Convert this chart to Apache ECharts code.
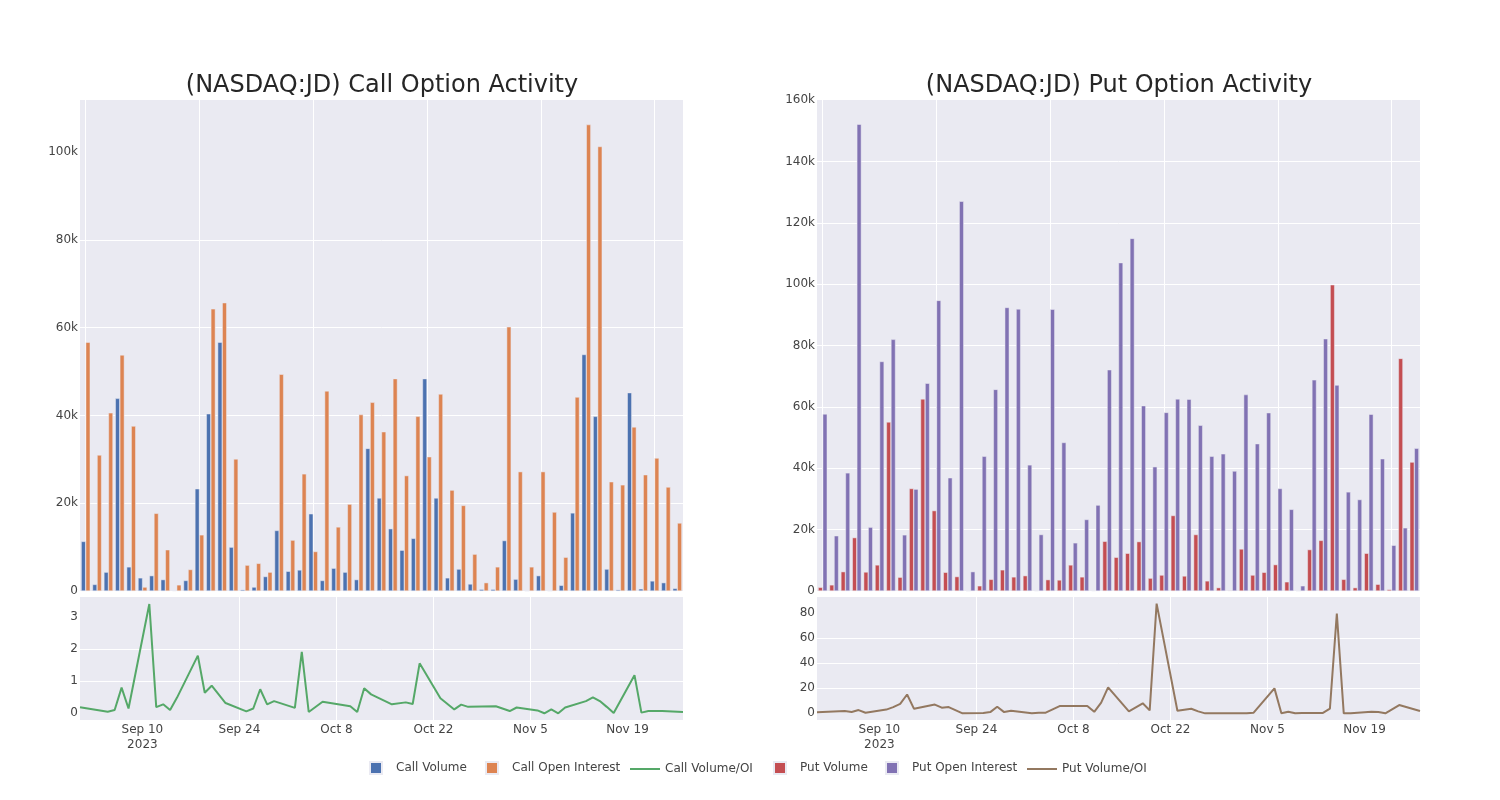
<!DOCTYPE html>
<html><head><meta charset="utf-8">
<script src="https://cdn.jsdelivr.net/npm/echarts@6/dist/echarts.min.js"></script>
<style>html,body{margin:0;padding:0;background:#fff}#c{width:1500px;height:800px}</style>
</head><body><div id="c"></div>
<script>
// ---- data ----
const dates = ['2023-09-01','2023-09-05','2023-09-06','2023-09-07','2023-09-08','2023-09-11','2023-09-12','2023-09-13','2023-09-14','2023-09-15',
 '2023-09-18','2023-09-19','2023-09-20','2023-09-22','2023-09-25','2023-09-26','2023-09-27','2023-09-28','2023-09-29','2023-10-02',
 '2023-10-03','2023-10-04','2023-10-06','2023-10-10','2023-10-11','2023-10-12','2023-10-13','2023-10-16','2023-10-18','2023-10-19',
 '2023-10-20','2023-10-23','2023-10-25','2023-10-26','2023-10-27','2023-10-31','2023-11-02','2023-11-03','2023-11-06','2023-11-07',
 '2023-11-08','2023-11-09','2023-11-10','2023-11-13','2023-11-14','2023-11-15','2023-11-16','2023-11-17','2023-11-20','2023-11-21',
 '2023-11-22','2023-11-24','2023-11-27'];
// thousands of contracts
const callVolume = [11.3,1.5,4.3,43.9,5.5,3.0,3.5,2.6,0.1,2.4, 23.3,40.4,56.7,10.0,0.3,0.9,3.3,13.8,4.5,4.8,
 17.6,2.4,5.2,4.3,2.6,32.5,21.2,14.2,9.3,12.0, 48.4,21.2,3.0,5.0,1.6,0.4,0.4,11.5,2.7,0.0,
 3.5,0.0,1.3,17.8,53.9,39.8,5.0,0.3,45.2,0.5, 2.3,1.9,0.6];
const callOpenInterest = [56.7,31.0,40.6,53.8,37.6,0.9,17.7,9.4,1.4,4.9, 12.8,64.3,65.7,30.1,5.9,6.3,4.3,49.4,11.6,26.7,
 9.0,45.6,14.6,19.8,40.2,43.0,36.3,48.4,26.3,39.8, 30.6,44.9,23.0,19.5,8.4,1.9,5.5,60.2,27.2,5.5,
 27.2,18.0,7.7,44.2,106.3,101.3,24.9,24.2,37.4,26.5, 30.3,23.7,15.5];
const callRatio = [0.19,0.05,0.10,0.80,0.15,3.41,0.19,0.28,0.10,0.49, 1.80,0.64,0.86,0.32,0.06,0.15,0.75,0.28,0.38,0.17,
 1.92,0.04,0.36,0.22,0.04,0.78,0.59,0.28,0.34,0.29, 1.56,0.47,0.12,0.27,0.20,0.22,0.07,0.18,0.09,0.00,
 0.12,0.00,0.18,0.38,0.50,0.38,0.20,0.01,1.19,0.02, 0.07,0.07,0.04];
const putVolume = [1.2,2.0,6.3,17.4,6.2,8.5,55.1,4.5,33.4,62.6, 26.2,6.1,4.7,0.0,1.7,3.8,6.9,4.6,5.0,0.1,
 3.7,3.6,8.5,4.6,0.1,16.2,11.0,12.3,16.1,4.2, 5.2,24.6,4.9,18.4,3.3,1.1,0.2,13.7,5.2,6.1,
 8.6,3.0,0.0,13.5,16.5,99.8,3.8,1.1,12.3,2.2, 0.5,75.8,42.0];
const putOpenInterest = [57.7,18.0,38.5,152.1,20.8,74.8,82.0,18.3,33.2,67.7, 94.7,36.9,127.0,6.3,43.9,65.7,92.4,91.9,41.1,18.4,
 91.8,48.4,15.7,23.3,28.0,72.1,107.0,114.9,60.4,40.5, 58.2,62.6,62.5,54.0,43.9,44.7,39.1,64.0,48.0,58.1,
 33.4,26.6,1.7,68.8,82.2,67.1,32.3,29.8,57.6,43.1, 14.9,20.6,46.5];
const putRatio = [0.8,1.8,1.1,2.6,0.5,3.0,5.0,7.5,15.0,3.6, 7.0,4.5,5.0,0.0,0.3,1.0,5.2,1.0,2.0,0.0,
 0.4,0.5,5.8,5.8,1.2,8.5,20.7,1.6,8.0,2.4, 87.4,2.1,3.7,1.6,0.0,0.0,0.0,0.5,19.9,0.0,
 1.3,0.0,0.2,0.3,3.7,79.5,0.0,0.0,1.2,1.0, 0.0,6.6,1.9];
const dateTicks = ['2023-09-10','2023-09-24','2023-10-08','2023-10-22','2023-11-05','2023-11-19'];
const dateRange = ['2023-09-01','2023-11-27'];
const barTicksCall = [0,20,40,60,80,100];
const barTicksPut = [0,20,40,60,80,100,120,140,160];
const ratioTicksCall = [0,1,2,3];
const ratioTicksPut = [0,20,40,60,80];
const titles = ['(NASDAQ:JD) Call Option Activity','(NASDAQ:JD) Put Option Activity'];
const legendNames = ['Call Volume','Call Open Interest','Call Volume/OI','Put Volume','Put Open Interest','Put Volume/OI'];

// ---- chart ----
const FONT = 'DejaVu Sans';
const TXT = '#444';
const BG = '#EAEAF2';
const MONTHS = ['Jan','Feb','Mar','Apr','May','Jun','Jul','Aug','Sep','Oct','Nov','Dec'];
const ts = s => { const p = s.split('-').map(Number); return Date.UTC(p[0], p[1]-1, p[2]); };
const kfmt = v => v === 0 ? '0' : v + 'k';
const firstTick = ts(dateTicks[0]);
const dfmt = v => { const d = new Date(v); let s = MONTHS[d.getUTCMonth()] + ' ' + d.getUTCDate(); if (v === firstTick) s += '\n2023'; return s; };
const SQ = 'path://M0,0H10V10H0Z';
const LN = 'path://M0,0H30V2H0Z';

const grids = [
  {left:80, top:100, width:603, height:491},
  {left:80, top:597, width:603, height:123},
  {left:817, top:100, width:603, height:491},
  {left:817, top:597, width:603, height:123}
].map(g => Object.assign({show:true, backgroundColor:BG, borderWidth:0}, g));

const split = {show:true, lineStyle:{color:'#fff', width:1}, showMinLine:false, showMaxLine:false};
function catAxis(i){ return {type:'category', gridIndex:i, data:dates, axisLabel:{show:false}, axisTick:{show:false}, axisLine:{show:false},
  splitLine:{show:true, interval:9, alignWithLabel:true, lineStyle:{color:'#fff', width:1}}}; }
const tickTs = dateTicks.map(ts);
function dateAxis(i){ return {type:'value', gridIndex:i, min:ts(dateRange[0]), max:ts(dateRange[1]), axisLine:{show:false},
  axisTick:{show:false, customValues:tickTs}, axisLabel:{customValues:tickTs, formatter:dfmt, color:TXT, fontFamily:FONT, fontSize:12, margin:2, lineHeight:15},
  splitLine:split}; }
function valAxis(i, min, max, ticks, fmt){ return {type:'value', gridIndex:i, min:min, max:max, axisLine:{show:false},
  axisTick:{show:false, customValues:ticks}, axisLabel:{customValues:ticks, formatter:fmt, color:TXT, fontFamily:FONT, fontSize:12, margin:2},
  splitLine:split}; }

// one legend component per item so each entry sits where the reference puts it
const legendLeft = [369, 485, 630, 773, 885, 1027];
const legendTop = [761, 761, 763, 761, 761, 763];
const legendIcon = [SQ, SQ, LN, SQ, SQ, LN];
const legends = legendNames.map((n, i) => ({left:legendLeft[i], top:legendTop[i], padding:0, itemWidth:30, itemHeight:12, symbolKeepAspect:true,
  textStyle:{fontFamily:FONT, fontSize:12, color:TXT}, data:[{name:n, icon:legendIcon[i]}]}));

const barCommon = {type:'bar', barGap:'0%', barCategoryGap:'20%', itemStyle:{borderColor:BG, borderWidth:0.5}};
const option = {
  animation:false,
  textStyle:{fontFamily:FONT},
  title: [
    {text:titles[0], left:377, top:69, textAlign:'center', textStyle:{fontFamily:FONT, fontSize:24, fontWeight:'normal', color:'#262626'}},
    {text:titles[1], left:1114, top:69, textAlign:'center', textStyle:{fontFamily:FONT, fontSize:24, fontWeight:'normal', color:'#262626'}}
  ],
  grid: grids,
  xAxis: [catAxis(0), dateAxis(1), catAxis(2), dateAxis(3)],
  yAxis: [
    valAxis(0, 0, 111.9, barTicksCall, kfmt),
    valAxis(1, -0.21, 3.63, ratioTicksCall, v => String(v)),
    valAxis(2, 0, 160, barTicksPut, kfmt),
    valAxis(3, -5.3, 92.7, ratioTicksPut, v => String(v))
  ],
  legend: legends,
  series: [
    Object.assign({}, barCommon, {name:legendNames[0], xAxisIndex:0, yAxisIndex:0, data:callVolume, color:'#4C72B0'}),
    Object.assign({}, barCommon, {name:legendNames[1], xAxisIndex:0, yAxisIndex:0, data:callOpenInterest, color:'#DD8452'}),
    {name:legendNames[2], type:'line', xAxisIndex:1, yAxisIndex:1, symbol:'none', color:'#55A868', lineStyle:{width:2},
      data:dates.map((d,i)=>[ts(d), callRatio[i]])},
    Object.assign({}, barCommon, {name:legendNames[3], xAxisIndex:2, yAxisIndex:2, data:putVolume, color:'#C44E52'}),
    Object.assign({}, barCommon, {name:legendNames[4], xAxisIndex:2, yAxisIndex:2, data:putOpenInterest, color:'#8172B3'}),
    {name:legendNames[5], type:'line', xAxisIndex:3, yAxisIndex:3, symbol:'none', color:'#937860', lineStyle:{width:2},
      data:dates.map((d,i)=>[ts(d), putRatio[i]])}
  ]
};
const chart = echarts.init(document.getElementById('c'));
chart.setOption(option);
</script></body></html>
